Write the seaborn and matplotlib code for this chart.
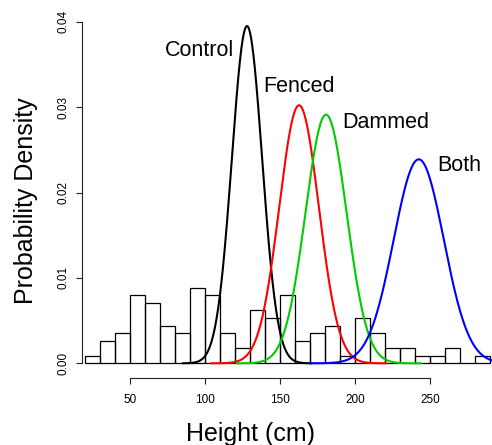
import numpy as np
import pandas as pd
import matplotlib
matplotlib.use("Agg")
import matplotlib.pyplot as plt
import seaborn as sns

# Histogram: bin edges (cm) and counts per 10-cm bin
bin_edges = list(range(20, 300, 10))
counts = [1, 3, 4, 9, 8, 5, 4, 10, 9, 4, 2, 7, 6, 9, 3, 4, 5, 1, 6, 4, 2, 2, 1, 1, 2, 0, 1]

# Normal density curves per treatment
groups = ["Control", "Fenced", "Dammed", "Both"]
means = [128, 162.7, 180.7, 242.5]
sds = [10.1, 13.2, 13.7, 16.7]
x_from = [85, 104, 121, 170]
x_to = [171, 221, 244, 316]
colors = ["black", "#FF0000", "#00CC00", "#0000FF"]
label_x = [96.3, 162.5, 220.5, 269.7]
label_y = [0.0360, 0.0318, 0.0275, 0.02255]

W, H = 492, 445
sns.set_style("white")
plt.rcParams['font.family'] = ['Liberation Sans', 'DejaVu Sans']
plt.rcParams.update({"text.color": "black", "axes.labelcolor": "black",
                     "xtick.color": "black", "ytick.color": "black"})
fig = plt.figure(figsize=(W / 100, H / 100), dpi=100)
ax = fig.add_axes([82 / W, (H - 378) / H, (W - 82) / W, (378 - 8) / H])

centers = [e + 5 for e in bin_edges[:-1]]
df = pd.DataFrame({"height": centers, "n": counts})
sns.histplot(data=df, x="height", weights="n", bins=bin_edges, stat="density",
             fill=False, element="bars", color="black", linewidth=0.9, ax=ax)

for g, m, s, a, b, c, lx, ly in zip(groups, means, sds, x_from, x_to, colors, label_x, label_y):
    xs = np.linspace(a, b, 400)
    ys = np.exp(-0.5 * ((xs - m) / s) ** 2) / (s * np.sqrt(2 * np.pi))
    sns.lineplot(x=xs, y=ys, color=c, linewidth=1.5, ax=ax)
    ax.text(lx, ly, g, ha="center", va="baseline", fontsize=15.5, color="black")

ax.set_xlim(18, 18 + 410 / 1.5)
ax.set_ylim(-0.00172, 0.04161)
sns.despine(ax=ax)
ax.spines["left"].set_bounds(0, 0.04)
ax.spines["bottom"].set_bounds(50, 250)
for sp in ("left", "bottom"):
    ax.spines[sp].set_linewidth(0.8)
    ax.spines[sp].set_color("#222222")
ax.set_xticks([50, 100, 150, 200, 250])
ax.set_yticks([0.0, 0.01, 0.02, 0.03, 0.04])
ax.set_yticklabels(["0.00", "0.01", "0.02", "0.03", "0.04"], rotation=90, va="center")
ax.tick_params(axis="both", direction="out", length=4.3, width=0.8, color="#222222",
               labelsize=8.5, left=True, bottom=True, labelcolor="black")
ax.tick_params(axis="x", pad=7)
ax.tick_params(axis="y", pad=5)
ax.set_xlabel("Height (cm)", fontsize=18)
ax.set_ylabel("Probability Density", fontsize=18)
ax.xaxis.set_label_coords(0.412, -0.1185)
ax.yaxis.set_label_coords(-0.107, 0.478)
ax.grid(False)

fig.savefig("out.png", dpi=100)
